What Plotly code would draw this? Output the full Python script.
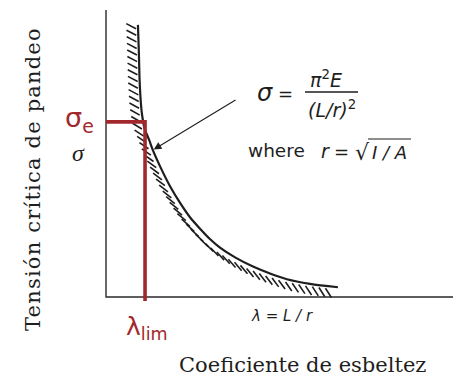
import math
import plotly.graph_objects as go

# Critical buckling stress σ against slenderness ratio λ = L/r (Euler hyperbola)
LAMBDA = [18.4, 18.9, 19.4, 20.2, 20.8, 22.2, 24.8, 27.0, 31.1, 36.9, 42.7,
          48.4, 54.2, 59.9, 65.7, 74.4, 84.7, 94.5, 104.3, 117.6, 133.7]
SIGMA = [474, 430, 375, 334, 317, 294, 274, 256, 228, 193, 164,
         139, 119, 101, 86, 69, 53, 41, 31, 23, 17]

# limit point: yield stress σe and the matching slenderness λlim
SIGMA_E = 305
LAMBDA_LIM = 22.5

# extent of the drawn axes
LAM_AXIS_END = 200
SIG_AXIS_TOP = 500
SIG_LIM_TICK = -7          # the λlim guide pokes just below the λ axis

Y_TITLE = "Tensión crítica de pandeo"
X_TITLE = "Coeficiente de esbeltez"
X_NAME = "λ = L / r"

W, H = 453, 392
X_RANGE = [-61.1, 200.0]
Y_RANGE = [-165.5, 517.4]
SX = W / (X_RANGE[1] - X_RANGE[0])
SY = H / (Y_RANGE[1] - Y_RANGE[0])

RED = "#a2282d"
INK = "#1e1e1e"
SANS = "DejaVu Sans"
SERIF = "DejaVu Serif"


def to_px(lam, sig):
    return (lam - X_RANGE[0]) * SX, (Y_RANGE[1] - sig) * SY


def to_data(px, py):
    return px / SX + X_RANGE[0], Y_RANGE[1] - py / SY


def paper(px, py):
    return px / W, 1 - py / H


# ---- hatching on the inner side of the curve ----
pts = [to_px(l, s) for l, s in zip(LAMBDA, SIGMA)]
cum = [0.0]
for (x0, y0), (x1, y1) in zip(pts[:-1], pts[1:]):
    cum.append(cum[-1] + math.hypot(x1 - x0, y1 - y0))
total = cum[-1]


def point_at(s):
    s = max(0.0, min(total, s))
    for i in range(len(pts) - 1):
        if cum[i + 1] >= s:
            seg = cum[i + 1] - cum[i]
            f = 0 if seg == 0 else (s - cum[i]) / seg
            return (pts[i][0] + f * (pts[i + 1][0] - pts[i][0]),
                    pts[i][1] + f * (pts[i + 1][1] - pts[i][1]))
    return pts[-1]


hx, hy = [], []
s = 1.0
while s < total - 4:
    px, py = point_at(s)
    ax, ay = point_at(s - 6)
    bx, by = point_at(s + 6)
    tx, ty = bx - ax, by - ay
    tl = math.hypot(tx, ty)
    tx, ty = tx / tl, ty / tl
    nx, ny = -ty, tx                       # normal towards the origin side
    steep = math.degrees(math.atan2(abs(ty), abs(tx)))
    ang = math.radians(60 - 33 * steep / 90)
    dx, dy = math.cos(ang), math.sin(ang)
    cx, cy = px + 6.8 * nx, py + 6.8 * ny
    for k in (-5.5, 5.5):
        lx, ly = to_data(cx + k * dx, cy + k * dy)
        hx.append(lx)
        hy.append(ly)
    hx.append(None)
    hy.append(None)
    s += 6.6

fig = go.Figure()

# axes
fig.add_trace(go.Scatter(x=[0, 0, LAM_AXIS_END], y=[SIG_AXIS_TOP, 0, 0],
                         mode="lines", line=dict(color="#2a2a2a", width=1.4),
                         hoverinfo="skip"))
# hatching
fig.add_trace(go.Scatter(x=hx, y=hy, mode="lines",
                         line=dict(color=INK, width=1.6), hoverinfo="skip"))
# Euler curve
fig.add_trace(go.Scatter(x=LAMBDA, y=SIGMA, mode="lines",
                         line=dict(color=INK, width=2.2, shape="spline",
                                   smoothing=0.8),
                         hoverinfo="skip"))
# σe / λlim guides
fig.add_trace(go.Scatter(x=[0, LAMBDA_LIM, LAMBDA_LIM],
                         y=[SIGMA_E, SIGMA_E, SIG_LIM_TICK],
                         mode="lines", line=dict(color=RED, width=3.6),
                         hoverinfo="skip"))

ann = []


def label(text, px, py, size, family, color=INK, xanchor="center",
          yanchor="middle", angle=0):
    x, y = paper(px, py)
    ann.append(dict(text=text, x=x, y=y, xref="paper", yref="paper",
                    xanchor=xanchor, yanchor=yanchor, showarrow=False,
                    textangle=angle,
                    font=dict(size=size, family=family, color=color)))


label(f"<span style='letter-spacing:1.2px'>{Y_TITLE}</span>", 33, 179, 21,
      SERIF, angle=-90)
label(X_TITLE, 302, 365, 21, SERIF)
label(f"<i>{X_NAME}</i>", 282, 316, 15, SANS)
label("σ<sub>e</sub>", 79, 119, 27, SANS, color=RED)
label("<i>σ</i>", 78, 153, 24, "Liberation Serif")
label("λ<sub>lim</sub>", 147, 328, 25, SANS, color=RED)

# formula σ = π²E / (L/r)²
label("<i>σ</i>", 265, 93, 24, SANS)
label("=", 285, 93, 18, SANS)
label("<i>π</i><sup>2</sup><i>E</i>", 326, 79, 19, SANS)
label("<i>(L/r)</i><sup>2</sup>", 332, 109, 19, SANS)
label("where", 276, 150, 18.5, SANS)
label("<i>r</i>", 325, 151, 19, SANS)
label("=", 341, 151, 18, SANS)
label("√", 362, 152, 22, SANS)
label("<i>I / A</i>", 389, 152, 18, SANS)

shapes = []
fx0, fy0 = paper(305, 92)
fx1, _ = paper(358, 92)
shapes.append(dict(type="line", xref="paper", yref="paper", x0=fx0, x1=fx1,
                   y0=fy0, y1=fy0, line=dict(color=INK, width=1.3)))
rx0, ry0 = paper(368, 139)
rx1, _ = paper(411, 139)
shapes.append(dict(type="line", xref="paper", yref="paper", x0=rx0, x1=rx1,
                   y0=ry0, y1=ry0, line=dict(color=INK, width=1.2)))

# arrow from the formula to the curve
tail_lam, tail_sig = to_data(237, 99)
ann.append(dict(x=LAMBDA[7], y=SIGMA[7], xref="x", yref="y",
                ax=tail_lam, ay=tail_sig, axref="x", ayref="y",
                text="", showarrow=True, arrowhead=2, arrowsize=1.4,
                arrowwidth=1.1, arrowcolor=INK, standoff=1))

fig.update_layout(
    width=W, height=H, margin=dict(l=0, r=0, t=0, b=0),
    paper_bgcolor="white", plot_bgcolor="white", showlegend=False,
    xaxis=dict(range=X_RANGE, visible=False, fixedrange=True),
    yaxis=dict(range=Y_RANGE, visible=False, fixedrange=True),
    annotations=ann, shapes=shapes,
)

fig.write_html("out.html")
